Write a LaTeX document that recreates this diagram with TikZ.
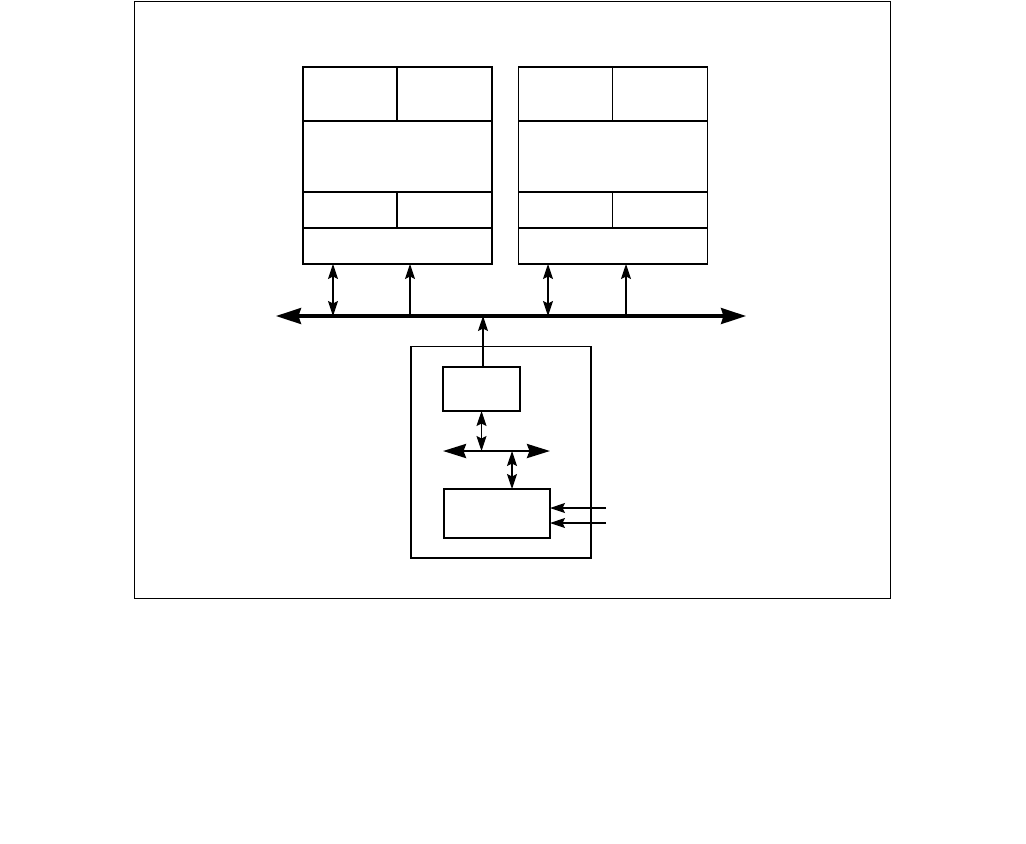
\documentclass[tikz,border=0pt]{standalone}
\usetikzlibrary{arrows.meta,positioning}

\begin{document}
\begin{tikzpicture}[x=0.02cm, y=-0.02cm,
        cell/.style={rectangle, draw, line width=0.6pt, inner sep=0pt, outer sep=0pt},
        sarrow/.style={-{Stealth[length=3mm, width=2mm, inset=0.5mm]}, line width=0.6pt},
        dbl/.style={{Stealth[length=3mm, width=2mm, inset=0.5mm]}-{Stealth[length=3mm, width=2mm, inset=0.5mm]}, line width=0.6pt},
        bus/.style={{Stealth[length=5mm, width=3.2mm, inset=0.5mm]}-{Stealth[length=5mm, width=3.2mm, inset=0.5mm]}, line width=1.8pt},
        lbus/.style={{Stealth[length=4.6mm, width=2.8mm, inset=0.5mm]}-{Stealth[length=4.6mm, width=2.8mm, inset=0.5mm]}, line width=1.6pt}
    ]
    \useasboundingbox (0,0) rectangle (1026,843);
    \node[cell, minimum width=15.14cm, minimum height=11.96cm] (frame) at (512.5,300) {};

    % the two processor blocks
    \foreach \b/\x in {l/350, r/565.5} {
        \node[cell, minimum width=1.88cm, minimum height=1.08cm] (\b1) at (\x,94) {};
        \node[cell, right=0 of \b1, minimum width=1.9cm, minimum height=1.08cm] (\b2) {};
        \node[cell, anchor=north west, minimum width=3.78cm, minimum height=1.42cm] (\b3) at (\b1.south west) {};
        \node[cell, anchor=north west, minimum width=1.88cm, minimum height=0.72cm] (\b4) at (\b3.south west) {};
        \node[cell, right=0 of \b4, minimum width=1.9cm, minimum height=0.72cm] (\b5) {};
        \node[cell, anchor=north west, minimum width=3.78cm, minimum height=0.72cm] (\b6) at (\b4.south west) {};
    }

    % system bus
    \coordinate (busW) at (276,316);
    \coordinate (busE) at (746,316);
    \coordinate (b1) at (333,316);
    \coordinate (b2) at (410,316);
    \coordinate (b3) at (548,316);
    \coordinate (b4) at (626,316);
    \coordinate (b0) at (483,316);
    \draw[bus] (busW) -- (busE);
    \draw[dbl] (b1) -- (b1 |- l6.south);
    \draw[sarrow] (b2) -- (b2 |- l6.south);
    \draw[dbl] (b3) -- (b3 |- r6.south);
    \draw[sarrow] (b4) -- (b4 |- r6.south);

    % controller
    \node[cell, minimum width=3.6cm, minimum height=4.24cm] (ctrl) at (501,452) {};
    \node[cell, minimum width=1.54cm, minimum height=0.88cm] (cpu) at (481.5,389) {};
    \node[cell, minimum width=2.12cm, minimum height=0.98cm] (io) at (497,513.5) {};
    \coordinate (lbW) at (443,451);
    \coordinate (lbE) at (550,451);
    \coordinate (lb2) at (512,451);
    \draw[lbus] (lbW) -- (lbE);
    \draw[sarrow] (b0 |- cpu.north) -- (b0);
    \draw[dbl] (cpu.south) -- (cpu.south |- lbW);
    \draw[dbl] (lb2) -- (lb2 |- io.north);
    \coordinate (in1) at (606,508);
    \coordinate (in2) at (606,523);
    \draw[sarrow] (in1) -- (in1 -| io.east);
    \draw[sarrow] (in2) -- (in2 -| io.east);
\end{tikzpicture}
\end{document}
